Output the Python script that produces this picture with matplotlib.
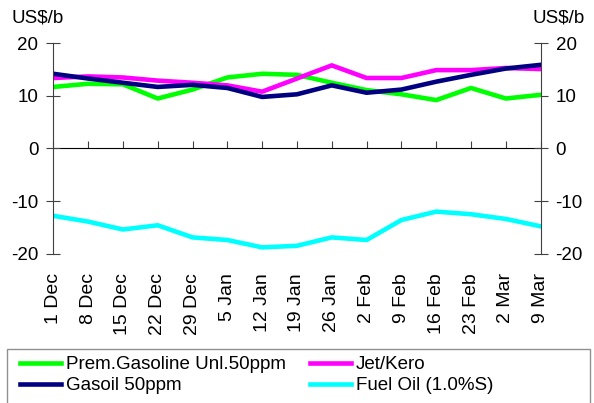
import matplotlib
matplotlib.use('Agg')
import matplotlib.pyplot as plt
from matplotlib.patches import Rectangle

plt.rcParams['font.family'] = ['Liberation Sans', 'DejaVu Sans']

dates = ['1 Dec', '8 Dec', '15 Dec', '22 Dec', '29 Dec', '5 Jan', '12 Jan', '19 Jan',
         '26 Jan', '2 Feb', '9 Feb', '16 Feb', '23 Feb', '2 Mar', '9 Mar']
gasoline = [11.7, 12.3, 12.2, 9.5, 11.2, 13.5, 14.2, 14.0, 12.5, 11.1, 10.3, 9.2, 11.5, 9.5, 10.2]
jet = [13.4, 13.7, 13.5, 12.9, 12.5, 12.0, 10.8, 13.3, 15.8, 13.4, 13.4, 14.9, 14.9, 15.3, 15.1]
gasoil = [14.2, 13.3, 12.5, 11.7, 12.1, 11.5, 9.8, 10.3, 12.0, 10.6, 11.2, 12.7, 14.0, 15.2, 15.9]
fuel_oil = [-12.8, -13.9, -15.4, -14.6, -16.9, -17.4, -18.8, -18.5, -16.9, -17.4, -13.6, -12.0, -12.5, -13.4, -14.8]

axc = '#404040'
fig = plt.figure(figsize=(5.94, 4.03), dpi=100)
ax = fig.add_axes([0.0897, 0.3705, 0.8205, 0.5221])

x = list(range(len(dates)))
lw = 3.3
l1, = ax.plot(x, gasoline, color='#00FF00', lw=lw, label='Prem.Gasoline Unl.50ppm')
l2, = ax.plot(x, jet, color='#FF00FF', lw=lw, label='Jet/Kero')
l3, = ax.plot(x, gasoil, color='#000080', lw=lw, label='Gasoil 50ppm')
l4, = ax.plot(x, fuel_oil, color='#00FFFF', lw=lw, label='Fuel Oil (1.0%S)')

ax.set_xlim(0, len(dates) - 1)
ax.set_ylim(-20, 20)
ax.set_yticks([-20, -10, 0, 10, 20])
ax.set_yticklabels(['-20', '-10', '0', '10', '20'])
for s in ['top', 'bottom']:
    ax.spines[s].set_visible(False)
for s in ['left', 'right']:
    ax.spines[s].set_color(axc)
ax.tick_params(axis='y', which='both', direction='inout', length=9.5, color=axc,
               labelsize=13.5, right=True, labelright=True, pad=6)
ax.set_xticks(x)
ax.set_xticklabels(dates, rotation=90, fontsize=14)
ax.tick_params(axis='x', length=0, pad=14)

# zero line with tick marks
zx = ax.secondary_xaxis(0.5)
zx.set_xticks(x)
zx.set_xticklabels([])
zx.spines['bottom'].set_color(axc)
zx.tick_params(axis='x', direction='out', length=5, color=axc)

fig.text(0.0197, 0.9546, 'US$/b', fontsize=13.5, ha='left', va='center')
fig.text(0.985, 0.9546, 'US$/b', fontsize=13.5, ha='right', va='center')

leg = fig.legend(handles=[l1, l3, l2, l4], ncol=2, loc='center left',
                 bbox_to_anchor=(20 / 594, 0.0687), fontsize=13.5, frameon=False,
                 borderaxespad=0, borderpad=0, handlelength=2.19,
                 handletextpad=0.27, labelspacing=0.2, columnspacing=1.26)
for h in leg.legend_handles:
    h.set_linewidth(3.3)
fig.patches.append(Rectangle((7.3 / 594, -0.01), (590 - 7.3) / 594, 0.1433,
                             transform=fig.transFigure, fill=False,
                             edgecolor='#909090', lw=1))

fig.savefig('out.png', dpi=100)
